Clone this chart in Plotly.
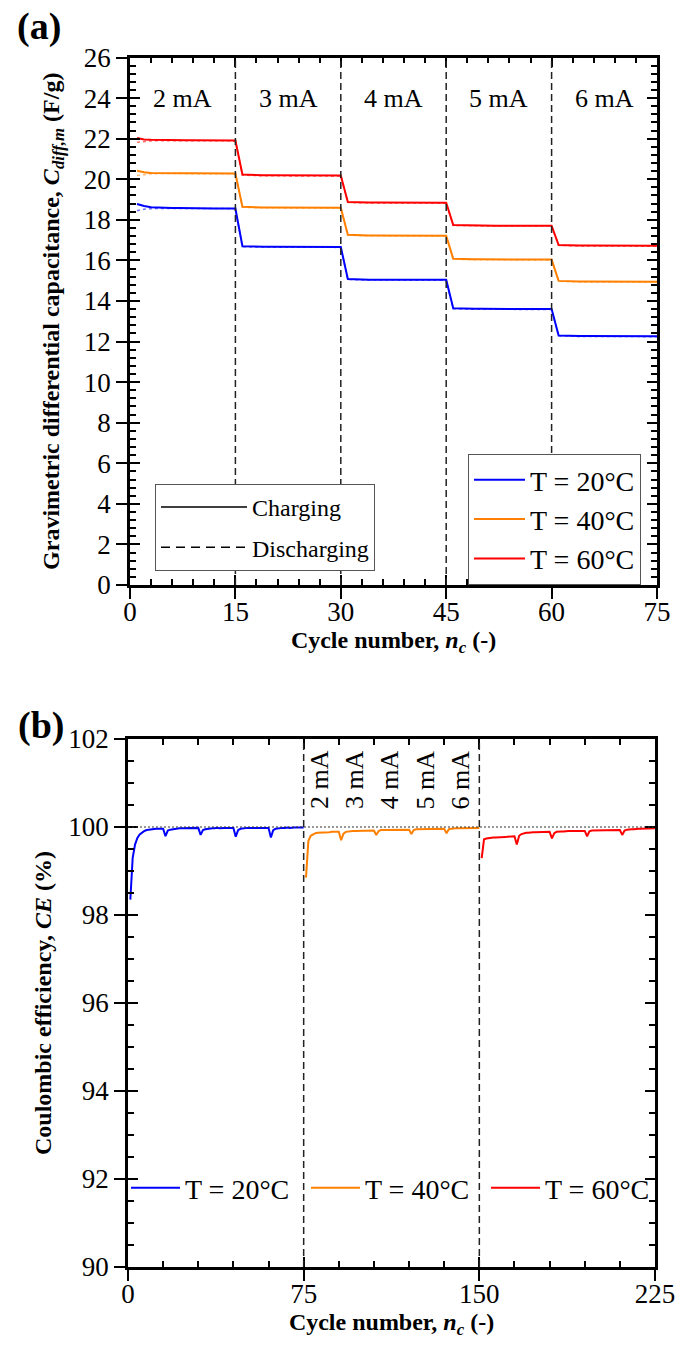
import plotly.graph_objects as go

W, H = 691, 1345
FONT = "Liberation Serif, Times New Roman, Times, serif"

# ---------------- Panel (a) data: gravimetric differential capacitance (F/g)
cycle_a = list(range(1, 76))
current_labels = ["2 mA", "3 mA", "4 mA", "5 mA", "6 mA"]
current_label_x = [7.5, 22.5, 37.5, 52.5, 67.5]
step_cycles = [15, 30, 45, 60]

c20_charge = [18.78, 18.68, 18.62, 18.60, 18.59, 18.58, 18.58, 18.57, 18.57, 18.57, 18.56, 18.56, 18.56, 18.56, 18.56,
              16.70, 16.68, 16.68, 16.67, 16.67, 16.67, 16.67, 16.66, 16.67, 16.66, 16.66, 16.66, 16.67, 16.66, 16.66,
              15.08, 15.06, 15.06, 15.05, 15.05, 15.05, 15.05, 15.05, 15.04, 15.05, 15.04, 15.04, 15.04, 15.04, 15.04,
              13.64, 13.62, 13.62, 13.61, 13.61, 13.61, 13.61, 13.60, 13.61, 13.60, 13.60, 13.60, 13.60, 13.60, 13.60,
              12.30, 12.28, 12.28, 12.27, 12.27, 12.27, 12.27, 12.27, 12.26, 12.27, 12.26, 12.26, 12.26, 12.26, 12.26]
c20_discharge = [18.45, 18.52, 18.55, 18.56, 18.56, 18.56, 18.56, 18.56, 18.56, 18.56, 18.55, 18.55, 18.55, 18.55, 18.55,
                 16.67, 16.66, 16.66, 16.65, 16.65, 16.65, 16.65, 16.65, 16.65, 16.65, 16.64, 16.64, 16.65, 16.64, 16.64,
                 15.06, 15.04, 15.04, 15.03, 15.03, 15.03, 15.03, 15.03, 15.03, 15.03, 15.02, 15.02, 15.02, 15.02, 15.02,
                 13.62, 13.60, 13.60, 13.59, 13.59, 13.59, 13.59, 13.59, 13.59, 13.59, 13.58, 13.58, 13.58, 13.58, 13.58,
                 12.28, 12.26, 12.26, 12.25, 12.25, 12.25, 12.25, 12.25, 12.25, 12.25, 12.24, 12.24, 12.24, 12.24, 12.24]

c40_charge = [20.42, 20.34, 20.31, 20.30, 20.30, 20.29, 20.29, 20.29, 20.29, 20.29, 20.29, 20.28, 20.29, 20.29, 20.28,
              18.64, 18.62, 18.62, 18.61, 18.61, 18.61, 18.61, 18.61, 18.61, 18.61, 18.61, 18.61, 18.60, 18.61, 18.60,
              17.26, 17.24, 17.24, 17.23, 17.23, 17.23, 17.23, 17.23, 17.23, 17.23, 17.22, 17.22, 17.22, 17.22, 17.22,
              16.08, 16.06, 16.06, 16.05, 16.05, 16.05, 16.05, 16.05, 16.05, 16.05, 16.04, 16.05, 16.04, 16.04, 16.04,
              14.99, 14.97, 14.97, 14.96, 14.96, 14.96, 14.96, 14.96, 14.96, 14.95, 14.95, 14.95, 14.95, 14.95, 14.95]
c40_discharge = [20.18, 20.24, 20.27, 20.28, 20.28, 20.28, 20.28, 20.28, 20.28, 20.28, 20.28, 20.27, 20.28, 20.28, 20.27,
                 18.62, 18.60, 18.60, 18.59, 18.59, 18.59, 18.59, 18.59, 18.59, 18.59, 18.59, 18.59, 18.58, 18.59, 18.58,
                 17.24, 17.22, 17.22, 17.21, 17.21, 17.21, 17.21, 17.21, 17.21, 17.21, 17.20, 17.20, 17.20, 17.20, 17.20,
                 16.06, 16.04, 16.04, 16.03, 16.03, 16.03, 16.03, 16.03, 16.03, 16.03, 16.02, 16.03, 16.02, 16.02, 16.02,
                 14.97, 14.95, 14.95, 14.94, 14.94, 14.94, 14.94, 14.94, 14.94, 14.93, 14.93, 14.93, 14.93, 14.93, 14.93]

c60_charge = [22.03, 21.96, 21.94, 21.93, 21.93, 21.92, 21.92, 21.92, 21.92, 21.92, 21.92, 21.92, 21.92, 21.92, 21.91,
              20.23, 20.21, 20.21, 20.20, 20.20, 20.20, 20.19, 20.19, 20.19, 20.19, 20.18, 20.18, 20.18, 20.18, 20.18,
              18.88, 18.86, 18.86, 18.85, 18.85, 18.85, 18.85, 18.85, 18.84, 18.84, 18.84, 18.84, 18.84, 18.84, 18.84,
              17.74, 17.73, 17.72, 17.72, 17.72, 17.72, 17.71, 17.71, 17.72, 17.71, 17.71, 17.71, 17.71, 17.71, 17.71,
              16.76, 16.74, 16.74, 16.73, 16.73, 16.73, 16.73, 16.72, 16.72, 16.72, 16.72, 16.72, 16.72, 16.72, 16.72]
c60_discharge = [21.82, 21.87, 21.89, 21.90, 21.90, 21.90, 21.90, 21.90, 21.90, 21.90, 21.90, 21.90, 21.90, 21.90, 21.89,
                 20.20, 20.18, 20.18, 20.17, 20.17, 20.17, 20.16, 20.16, 20.16, 20.16, 20.15, 20.15, 20.15, 20.15, 20.15,
                 18.86, 18.84, 18.84, 18.83, 18.83, 18.83, 18.83, 18.83, 18.82, 18.82, 18.82, 18.82, 18.82, 18.82, 18.82,
                 17.72, 17.71, 17.70, 17.70, 17.70, 17.70, 17.69, 17.69, 17.70, 17.69, 17.69, 17.69, 17.69, 17.69, 17.69,
                 16.74, 16.72, 16.72, 16.71, 16.71, 16.71, 16.71, 16.70, 16.70, 16.70, 16.70, 16.70, 16.70, 16.70, 16.70]

# ---------------- Panel (b) data: coulombic efficiency (%)
cycle_b20 = list(range(1, 76))
cycle_b40 = list(range(76, 151))
cycle_b60 = list(range(151, 226))
temp_steps = [75, 150]
rot_label_x = [82, 97, 112, 127, 142]

ce20 = [98.35, 99.30, 99.60, 99.75, 99.83, 99.88, 99.91, 99.93, 99.94, 99.95, 99.95, 99.96, 99.96, 99.96, 99.96,
        99.79, 99.92, 99.94, 99.95, 99.96, 99.96, 99.97, 99.97, 99.97, 99.97, 99.97, 99.97, 99.97, 99.98, 99.98,
        99.82, 99.93, 99.95, 99.96, 99.97, 99.97, 99.97, 99.98, 99.97, 99.98, 99.98, 99.98, 99.98, 99.98, 99.98,
        99.78, 99.93, 99.96, 99.97, 99.98, 99.98, 99.98, 99.98, 99.98, 99.98, 99.98, 99.98, 99.98, 99.98, 99.98,
        99.76, 99.93, 99.96, 99.97, 99.98, 99.98, 99.98, 99.99, 99.98, 99.99, 99.99, 99.99, 99.99, 99.99, 99.99]
ce40 = [98.85, 99.68, 99.80, 99.84, 99.86, 99.87, 99.87, 99.88, 99.88, 99.88, 99.88, 99.89, 99.89, 99.89, 99.89,
        99.70, 99.85, 99.89, 99.90, 99.91, 99.91, 99.91, 99.91, 99.92, 99.92, 99.92, 99.92, 99.92, 99.92, 99.92,
        99.82, 99.91, 99.93, 99.93, 99.93, 99.94, 99.94, 99.94, 99.94, 99.94, 99.94, 99.94, 99.94, 99.94, 99.94,
        99.84, 99.93, 99.95, 99.95, 99.95, 99.96, 99.96, 99.96, 99.96, 99.96, 99.96, 99.96, 99.96, 99.96, 99.96,
        99.86, 99.95, 99.96, 99.97, 99.97, 99.97, 99.97, 99.97, 99.98, 99.98, 99.98, 99.98, 99.98, 99.98, 99.98]
ce60 = [99.29, 99.72, 99.74, 99.75, 99.75, 99.76, 99.76, 99.76, 99.77, 99.77, 99.77, 99.78, 99.78, 99.78, 99.79,
        99.60, 99.80, 99.84, 99.86, 99.87, 99.87, 99.88, 99.88, 99.88, 99.88, 99.89, 99.89, 99.89, 99.89, 99.89,
        99.74, 99.86, 99.89, 99.90, 99.90, 99.90, 99.91, 99.91, 99.91, 99.91, 99.91, 99.91, 99.91, 99.91, 99.91,
        99.79, 99.90, 99.92, 99.92, 99.92, 99.92, 99.93, 99.93, 99.93, 99.93, 99.93, 99.93, 99.93, 99.93, 99.93,
        99.82, 99.92, 99.94, 99.95, 99.95, 99.95, 99.96, 99.96, 99.96, 99.96, 99.96, 99.97, 99.97, 99.97, 99.97]

temps = ["T = 20°C", "T = 40°C", "T = 60°C"]
colors = ["#0000FF", "#FF8000", "#FF0000"]

# ---------------- layout geometry (pixels -> paper)
def px_x(p):
    return p / W

def px_y(p):
    return 1 - p / H

dom_xa = [px_x(130), px_x(657)]
dom_ya = [px_y(585), px_y(57.5)]
dom_xb = [px_x(128), px_x(655)]
dom_yb = [px_y(1267), px_y(739)]

fig = go.Figure()

charge_sets = [c20_charge, c40_charge, c60_charge]
discharge_sets = [c20_discharge, c40_discharge, c60_discharge]
for name, col, ch, dis in zip(temps, colors, charge_sets, discharge_sets):
    fig.add_trace(go.Scatter(x=cycle_a, y=dis, mode="lines", xaxis="x", yaxis="y",
                             line=dict(color=col, width=1.5, dash="dot"), opacity=0.55,
                             showlegend=False, hoverinfo="skip"))
for name, col, ch in zip(temps, colors, charge_sets):
    fig.add_trace(go.Scatter(x=cycle_a, y=ch, mode="lines", name=name, xaxis="x", yaxis="y",
                             line=dict(color=col, width=2), legend="legend"))

# style legend entries (charging / discharging)
fig.add_trace(go.Scatter(x=[None], y=[None], mode="lines", name="Charging", xaxis="x", yaxis="y",
                         line=dict(color="black", width=1.5), legend="legend2", legendgroup="ch"))
fig.add_trace(go.Scatter(x=[None], y=[None], mode="lines", name="Discharging", xaxis="x", yaxis="y",
                         line=dict(color="black", width=1.5, dash="9px,6px"), legend="legend2", legendgroup="dis"))

for name, col, xs, ys in zip(temps, colors, [cycle_b20, cycle_b40, cycle_b60], [ce20, ce40, ce60]):
    fig.add_trace(go.Scatter(x=xs, y=ys, mode="lines", name=name, xaxis="x2", yaxis="y2",
                             line=dict(color=col, width=2), legend="legend3"))

# dummy traces so overlay axes (inside ticks) render
fig.add_trace(go.Scatter(x=[None], y=[None], xaxis="x3", yaxis="y3", showlegend=False, hoverinfo="skip"))
fig.add_trace(go.Scatter(x=[None], y=[None], xaxis="x4", yaxis="y4", showlegend=False, hoverinfo="skip"))

tickfont = dict(family=FONT, size=27, color="black")
titlefont = dict(family=FONT, size=24, color="black", weight="bold")

def main_axis(**kw):
    d = dict(showline=True, linewidth=2.5, linecolor="black", mirror=True,
             ticks="outside", ticklen=11, tickwidth=2, tickcolor="black",
             showgrid=False, zeroline=False, tickfont=tickfont, automargin=False)
    d.update(kw)
    return d

def overlay_axis(**kw):
    d = dict(showline=True, linewidth=2.5, linecolor="black", mirror="ticks",
             ticks="inside", ticklen=10, tickwidth=2, tickcolor="black",
             showgrid=False, zeroline=False, showticklabels=False, automargin=False)
    d.update(kw)
    return d

xtitle = "Cycle number, <i>n</i><sub><i>c</i></sub> (-)"

fig.update_layout(
    width=W, height=H,
    margin=dict(l=0, r=0, t=0, b=0),
    paper_bgcolor="white", plot_bgcolor="white",
    font=dict(family=FONT, color="black"),
    xaxis=main_axis(domain=dom_xa, anchor="y", range=[0, 75], tickvals=[0, 15, 30, 45, 60, 75],
                    ticklabelstandoff=-10,
                    title=dict(text=xtitle, font=titlefont, standoff=6)),
    yaxis=main_axis(domain=dom_ya, anchor="x", range=[0, 26], tickvals=list(range(0, 27, 2)),
                    title=dict(text="Gravimetric differential capacitance, <i>C</i><sub><i>diff,m</i></sub> (F/g)",
                               font=titlefont, standoff=18)),
    xaxis3=overlay_axis(overlaying="x", anchor="y3", range=[0, 75], tickvals=[0, 15, 30, 45, 60, 75],
                        minor=dict(dtick=3, tick0=0, ticks="inside", ticklen=6, tickwidth=1.5, tickcolor="black")),
    yaxis3=overlay_axis(overlaying="y", anchor="x3", range=[0, 26], tickvals=list(range(0, 27, 2)),
                        minor=dict(dtick=0.4, tick0=0, ticks="inside", ticklen=6, tickwidth=1.5, tickcolor="black")),
    xaxis2=main_axis(domain=dom_xb, anchor="y2", range=[0, 225], tickvals=[0, 75, 150, 225],
                     ticklabelstandoff=-10,
                     title=dict(text=xtitle, font=titlefont, standoff=6)),
    yaxis2=main_axis(domain=dom_yb, anchor="x2", range=[90, 102], tickvals=list(range(90, 103, 2)),
                     title=dict(text="Coulombic efficiency, <i>CE</i> (%)", font=titlefont, standoff=10)),
    xaxis4=overlay_axis(overlaying="x2", anchor="y4", range=[0, 225], tickvals=[0, 75, 150, 225],
                        minor=dict(dtick=15, tick0=0, ticks="inside", ticklen=6, tickwidth=1.5, tickcolor="black")),
    yaxis4=overlay_axis(overlaying="y2", anchor="x4", range=[90, 102], tickvals=list(range(90, 103, 2)),
                        minor=dict(dtick=0.5, tick0=90, ticks="inside", ticklen=6, tickwidth=1.5, tickcolor="black")),
    legend=dict(x=px_x(468), y=px_y(454), xanchor="left", yanchor="top",
                bgcolor="white", bordercolor="#555", borderwidth=1,
                font=dict(family=FONT, size=28, color="black"), itemwidth=51, tracegroupgap=0),
    legend2=dict(x=px_x(155), y=px_y(484), xanchor="left", yanchor="top",
                 bgcolor="white", bordercolor="#555", borderwidth=1,
                 font=dict(family=FONT, size=24, color="black"), itemwidth=86, tracegroupgap=6),
    legend3=dict(x=px_x(126), y=px_y(1188), xanchor="left", yanchor="middle", orientation="h",
                 bgcolor="rgba(0,0,0,0)", borderwidth=0,
                 font=dict(family=FONT, size=28, color="black"), itemwidth=49, entrywidth=116),
    showlegend=True,
)

# vertical current-step separators (a)
for xv in step_cycles:
    fig.add_shape(type="line", xref="x", yref="y domain", x0=xv, x1=xv, y0=0, y1=1,
                  line=dict(color="#222", width=1.5, dash="7px,4px"))
# temperature separators (b)
for xv in temp_steps:
    fig.add_shape(type="line", xref="x2", yref="y2 domain", x0=xv, x1=xv, y0=0, y1=1,
                  line=dict(color="#222", width=1.5, dash="7px,4px"))
fig.add_shape(type="line", xref="x2 domain", yref="y2", x0=0, x1=1, y0=100, y1=100,
              line=dict(color="#333", width=1, dash="2px,2px"))

for lab, xv in zip(current_labels, current_label_x):
    fig.add_annotation(x=xv, y=24.0, xref="x", yref="y", text=lab, showarrow=False,
                       font=dict(family=FONT, size=26, color="black"))
for lab, xv in zip(current_labels, rot_label_x):
    fig.add_annotation(x=xv, y=101.07, xref="x2", yref="y2", text=lab, showarrow=False, textangle=-90,
                       font=dict(family=FONT, size=26, color="black"))

fig.add_annotation(x=px_x(39), y=px_y(27), xref="paper", yref="paper", text="<b>(a)</b>", showarrow=False,
                   xanchor="center", yanchor="middle", font=dict(family=FONT, size=38, color="black"))
fig.add_annotation(x=px_x(41), y=px_y(725), xref="paper", yref="paper", text="<b>(b)</b>", showarrow=False,
                   xanchor="center", yanchor="middle", font=dict(family=FONT, size=38, color="black"))

fig.write_html("out.html")
